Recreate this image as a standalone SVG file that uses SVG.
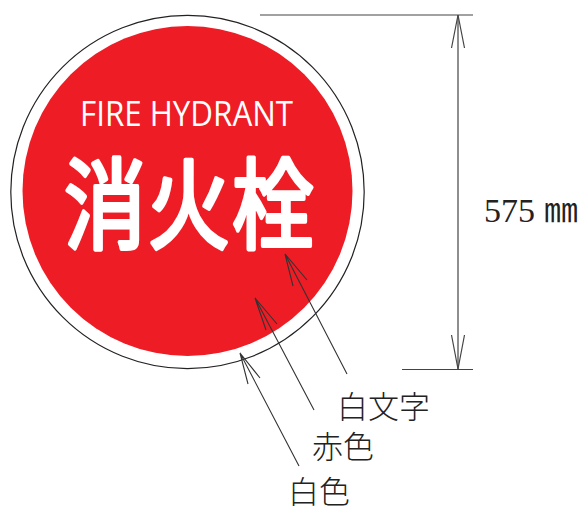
<svg xmlns="http://www.w3.org/2000/svg" width="583" height="512" viewBox="0 0 583 512">
<style>
.l{fill:none;stroke:#333;stroke-width:1.1}
.d{fill:none;stroke:#444;stroke-width:1.2}
.t{font-family:"Noto Sans CJK JP","Liberation Serif",serif;font-size:31px;fill:#222;font-weight:300}
</style>
<rect width="583" height="512" fill="#fff"/>
<g id="sign">
<circle cx="187.500" cy="192" r="176.700" fill="#fff" stroke="#222" stroke-width="1.200"/>
<circle cx="187.500" cy="191" r="165" fill="#ee1c25"/>
<text id="sign-en" x="80" y="125.500" textLength="213" lengthAdjust="spacingAndGlyphs" font-family="'Open Sans','Liberation Sans',sans-serif" font-size="35" font-weight="400" fill="#fff">FIRE HYDRANT</text>
<text id="sign-ja" transform="translate(64 241) scale(1 1.2)" x="0" y="0" textLength="250" font-family="'Noto Sans CJK JP',sans-serif" font-size="82" font-weight="400" fill="#fff" stroke="#fff" stroke-width="3.500" stroke-linejoin="round" stroke-linecap="round">消火栓</text>
</g>
<g id="connectors">
<path class="d" d="M260 15H473M402 369.500H473M458 15V369"/>
<path class="d" d="M451.500 48L458 15L464.500 48M451.500 335L458 369L464.500 335"/>
<path class="l" d="M347 374L285 254M293 286L285 254L307 280"/>
<path class="l" d="M314 410L255 298M266 330L255 298L277 324"/>
<path class="l" d="M299 466L240 353M248 384L240 353L260 378"/>
</g>
<g id="dimension"><text x="484" y="222" font-family="'Liberation Serif',serif" font-size="34" fill="#222">575</text><text x="544" y="222" font-family="'Noto Sans CJK JP',serif" font-size="34" fill="#222">㎜</text></g>
<g id="label-white-text"><text class="t" x="337" y="418">白文字</text></g>
<g id="label-red"><text class="t" x="312" y="458">赤色</text></g>
<g id="label-white"><text class="t" x="288" y="503">白色</text></g>
</svg>
